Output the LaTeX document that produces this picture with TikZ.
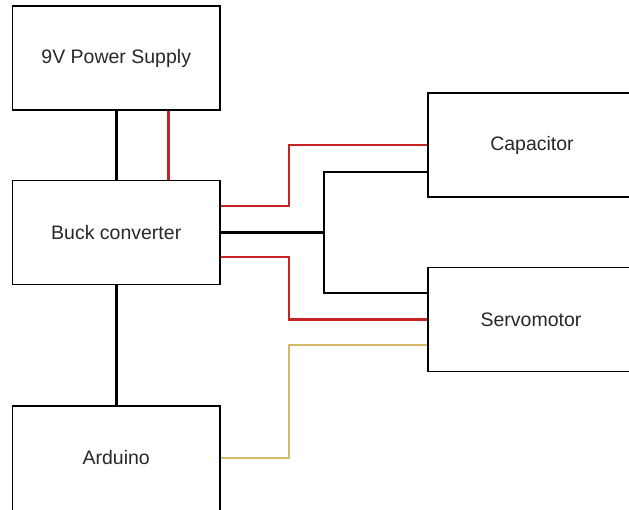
\documentclass[tikz,border=0pt]{standalone}
\usepackage{fontspec}
\setmainfont{Liberation Sans}
\usetikzlibrary{calc}
\definecolor{wred}{RGB}{200,35,35}
\definecolor{wyel}{RGB}{215,185,110}
\definecolor{txt}{RGB}{40,40,40}
\begin{document}
\begin{tikzpicture}[x=1pt,y=-1pt,
  blk/.style={draw=black,line width=1.7pt,fill=white,rectangle,inner sep=0pt,
    minimum width=207.5pt,minimum height=104pt,text=txt,font=\fontsize{19.5}{22}\selectfont},
  lbl/.style={text=txt,font=\fontsize{19.5}{22}\selectfont},
  wire/.style={line width=2.7pt},
]
\useasboundingbox (0,0) rectangle (629,509);
\clip (0,0) rectangle (629,509);
\node[blk] (power) at (116.25,58) {9V Power Supply};
\node[blk] (buck) at (116.25,232.5) {Buck converter};
\node[blk,minimum height=124pt] (ard) at (116.25,468) {};
\node[lbl] (ardtxt) at (116.25,458) {Arduino};
\node[blk,minimum width=240pt] (cap) at (548,145) {};
\node[blk,minimum width=240pt] (servo) at (548,319.5) {};
\node[lbl] (captxt) at (532,145) {Capacitor};
\node[lbl] (servotxt) at (531,319.5) {Servomotor};

\coordinate (pr) at ($(power.south)+(52,0)$);
\coordinate (br) at ($(buck.north)+(52,0)$);
\coordinate (bru) at ($(buck.east)+(0,-26.5)$);
\coordinate (brl) at ($(buck.east)+(0,24.5)$);
\coordinate (capb) at ($(cap.west)+(0,27)$);
\coordinate (servb) at ($(servo.west)+(0,-26.5)$);
\coordinate (servy) at ($(servo.west)+(0,25.5)$);
\coordinate (arde) at (ard.east |- ardtxt);

\draw[wire] (power.south) -- (buck.north);
\draw[wire,wred] (pr) -- (br);
\draw[wire] (buck.south) -- (ard.north);
\draw[wire,wred] (bru) -- (289,206) -- (289,145) -- (cap.west);
\draw[wire] (buck.east) -- (324,232.5) -- (324,172) -- (capb);
\draw[wire] (324,232.5) -- (324,293) -- (servb);
\draw[wire,wred] (brl) -- (289,257) -- (289,319.5) -- (servo.west);
\draw[wire,wyel] (arde) -- (289,458) -- (289,345) -- (servy);
\end{tikzpicture}
\end{document}
